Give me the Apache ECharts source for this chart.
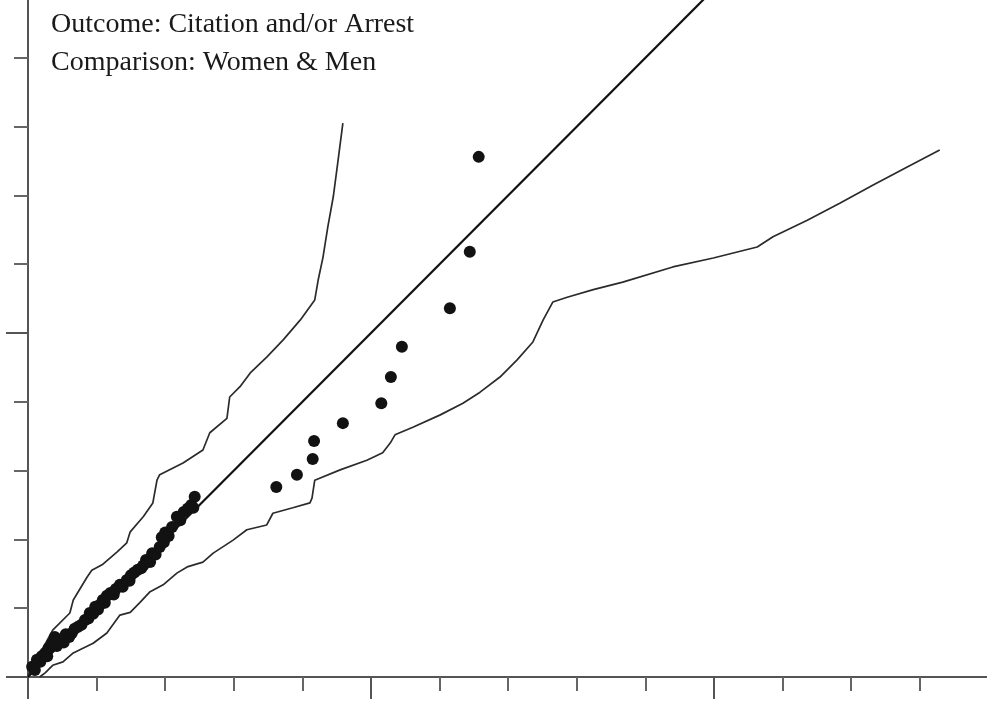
<!DOCTYPE html>
<html>
<head>
<meta charset="utf-8">
<script src="https://cdn.jsdelivr.net/npm/echarts@6/dist/echarts.min.js"></script>
<style>
  html, body { margin: 0; padding: 0; background: #ffffff; overflow: hidden; }
  #chart { width: 987px; height: 701px; }
</style>
</head>
<body>
<div id="chart"></div>
<script>
// Header text
const headerLines = ['Outcome: Citation and/or Arrest', 'Comparison: Women & Men'];

// Reference line of equal quantiles
const equalityLine = [[0, 0], [10, 10]];

// Upper simulation envelope
const upperEnvelope = [
  [0.00, 0.02], [0.10, 0.20], [0.36, 0.68], [0.61, 0.93], [0.66, 1.12], [0.86, 1.45],
  [0.93, 1.55], [1.08, 1.63], [1.30, 1.82], [1.44, 1.95], [1.49, 2.11], [1.68, 2.33],
  [1.82, 2.53], [1.88, 2.86], [1.92, 2.94], [2.26, 3.11], [2.55, 3.30], [2.65, 3.55],
  [2.90, 3.76], [2.94, 4.07], [3.09, 4.22], [3.24, 4.42], [3.48, 4.65], [3.72, 4.90],
  [3.97, 5.19], [4.18, 5.48], [4.23, 5.77], [4.30, 6.10], [4.37, 6.54], [4.45, 6.98],
  [4.52, 7.51], [4.59, 8.05]
];

// Lower simulation envelope
const lowerEnvelope = [
  [0.17, 0.00], [0.25, 0.06], [0.36, 0.17], [0.51, 0.22], [0.66, 0.35], [0.95, 0.49],
  [1.15, 0.64], [1.34, 0.90], [1.49, 0.94], [1.63, 1.08], [1.78, 1.24], [1.97, 1.34],
  [2.17, 1.51], [2.32, 1.60], [2.55, 1.67], [2.70, 1.80], [2.99, 1.99], [3.19, 2.14],
  [3.48, 2.21], [3.57, 2.38], [3.86, 2.46], [4.11, 2.53], [4.14, 2.60], [4.18, 2.86],
  [4.55, 3.01], [4.94, 3.15], [5.17, 3.26], [5.28, 3.40], [5.35, 3.52], [5.61, 3.63],
  [6.01, 3.81], [6.34, 3.98], [6.59, 4.14], [6.88, 4.36], [7.13, 4.61], [7.36, 4.87],
  [7.51, 5.19], [7.65, 5.45], [7.86, 5.52], [8.24, 5.63], [8.67, 5.74], [9.40, 5.96],
  [9.99, 6.09], [10.63, 6.25], [10.86, 6.40], [11.36, 6.64], [11.84, 6.89], [12.32, 7.15],
  [12.81, 7.41], [13.29, 7.66]
];

// Observed quantile pairs (women vs men): dense lower quantiles
const observedLower = [
  [0.06, 0.15], [0.10, 0.10], [0.13, 0.25], [0.18, 0.22], [0.20, 0.30], [0.25, 0.35],
  [0.28, 0.30], [0.30, 0.42], [0.35, 0.49], [0.39, 0.58], [0.42, 0.45], [0.48, 0.55],
  [0.52, 0.50], [0.55, 0.62], [0.60, 0.58], [0.64, 0.64], [0.68, 0.70], [0.73, 0.73],
  [0.78, 0.76], [0.83, 0.83], [0.88, 0.85], [0.90, 0.93], [0.95, 0.92], [0.98, 1.02],
  [1.02, 0.98], [1.05, 1.05], [1.09, 1.12], [1.12, 1.08], [1.15, 1.18], [1.20, 1.22],
  [1.25, 1.20], [1.28, 1.28], [1.34, 1.34], [1.38, 1.31], [1.44, 1.41], [1.48, 1.40],
  [1.50, 1.48], [1.55, 1.52], [1.60, 1.56], [1.65, 1.58], [1.68, 1.62], [1.72, 1.70],
  [1.78, 1.67], [1.81, 1.80], [1.86, 1.78], [1.92, 1.89], [1.95, 2.03], [1.98, 1.96],
  [2.00, 2.10], [2.05, 2.05], [2.10, 2.18], [2.17, 2.33], [2.22, 2.28], [2.27, 2.40],
  [2.33, 2.45], [2.38, 2.50], [2.41, 2.46], [2.43, 2.62]
];

// Observed quantile pairs (women vs men): sparse upper quantiles
const observedUpper = [
  [3.62, 2.76], [3.92, 2.94], [4.15, 3.17], [4.17, 3.43], [4.59, 3.69], [5.15, 3.98],
  [5.29, 4.36], [5.45, 4.80], [6.15, 5.36], [6.44, 6.18], [6.57, 7.56]
];

const chart = echarts.init(document.getElementById('chart'), null, { renderer: 'canvas' });

const axisColor = '#555555';

function axisStyle(maxValue) {
  return {
    type: 'value',
    min: 0,
    max: maxValue,
    interval: 5,
    axisLine: { show: true, onZero: false, lineStyle: { color: axisColor, width: 2 } },
    axisTick: { show: true, length: 22, lineStyle: { color: axisColor, width: 2 } },
    minorTick: { show: true, splitNumber: 5, length: 14, lineStyle: { color: '#666666', width: 2 } },
    axisLabel: { show: false },
    splitLine: { show: false },
    minorSplitLine: { show: false }
  };
}

chart.setOption({
  animation: false,
  backgroundColor: '#ffffff',
  // the plotting area runs past the right and top edges of the canvas
  grid: {
    left: 28, top: -11, width: 1029, height: 688,
    containLabel: false,
    outerBoundsMode: 'none'
  },
  xAxis: axisStyle(15),
  yAxis: axisStyle(10),
  graphic: headerLines.map((line, i) => ({
    type: 'text',
    x: 51,
    y: 11 + i * 38,
    silent: true,
    style: {
      text: line,
      font: '28px "Liberation Serif", "DejaVu Serif", serif',
      fill: '#1a1a1a',
      verticalAlign: 'top'
    }
  })),
  series: [
    {
      type: 'line',
      data: equalityLine,
      showSymbol: false,
      lineStyle: { color: '#111111', width: 2.2 },
      z: 3
    },
    {
      type: 'line',
      data: upperEnvelope,
      showSymbol: false,
      lineStyle: { color: '#2b2b2b', width: 1.7 },
      z: 2
    },
    {
      type: 'line',
      data: lowerEnvelope,
      showSymbol: false,
      lineStyle: { color: '#2b2b2b', width: 1.7 },
      z: 2
    },
    {
      type: 'scatter',
      data: observedLower,
      symbol: 'circle',
      symbolSize: 12,
      itemStyle: { color: '#121212', opacity: 1 },
      z: 4
    },
    {
      type: 'scatter',
      data: observedUpper,
      symbol: 'circle',
      symbolSize: 12,
      itemStyle: { color: '#121212', opacity: 1 },
      z: 4
    }
  ]
});
</script>
</body>
</html>
